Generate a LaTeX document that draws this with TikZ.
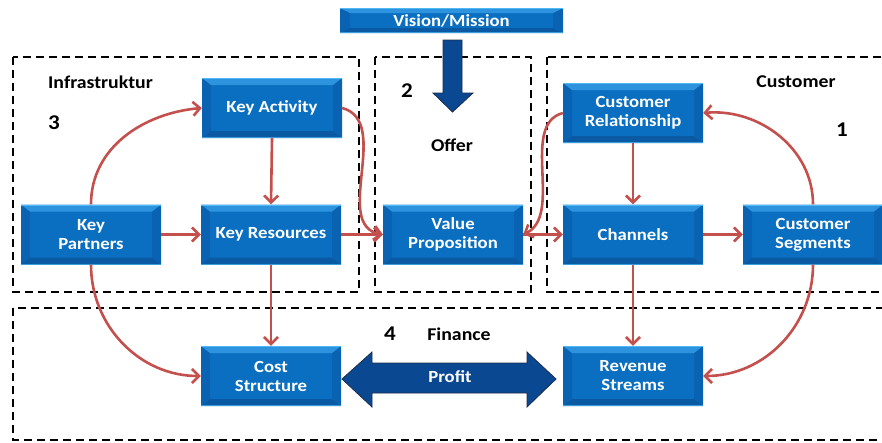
\documentclass[tikz,border=0pt]{standalone}
\usepackage{fontspec}
\setmainfont{Carlito}[FakeStretch=1.1]
\usetikzlibrary{arrows.meta}
\definecolor{bxmid}{HTML}{0B6FC1}
\definecolor{bxtop}{HTML}{2E93DE}
\definecolor{bxedge}{HTML}{4DB8F4}
\definecolor{bxbot}{HTML}{0A5AA3}
\definecolor{bxside}{HTML}{0A63B2}
\definecolor{arrblue}{HTML}{0B4892}
\definecolor{arrline}{HTML}{1C2D4A}
\definecolor{conred}{HTML}{C4504D}
\newcommand{\boxfont}{\fontsize{17}{19}\selectfont\bfseries}
\newcommand{\lblfont}{\fontsize{18}{20}\selectfont\bfseries}
\newcommand{\numfont}{\fontsize{21}{23}\selectfont\bfseries}
\tikzset{
  bevel/.style 2 args={path picture={
    \path (path picture bounding box.north west) coordinate (@nw)
          (path picture bounding box.north east) coordinate (@ne)
          (path picture bounding box.south west) coordinate (@sw)
          (path picture bounding box.south east) coordinate (@se);
    \fill[bxside] (@nw) -- ([shift={(#1,-#2)}]@nw) -- ([shift={(#1,#2)}]@sw) -- (@sw) -- cycle;
    \fill[bxside] (@ne) -- ([shift={(-#1,-#2)}]@ne) -- ([shift={(-#1,#2)}]@se) -- (@se) -- cycle;
    \fill[bxtop] (@nw) -- (@ne) -- ([shift={(-#1,-#2)}]@ne) -- ([shift={(#1,-#2)}]@nw) -- cycle;
    \fill[bxbot] (@sw) -- (@se) -- ([shift={(-#1,#2)}]@se) -- ([shift={(#1,#2)}]@sw) -- cycle;
    \draw[bxedge, line width=1.2pt] ([yshift=-0.6pt]@nw) -- ([yshift=-0.6pt]@ne);
    \draw[bxedge!70!bxbot, line width=1pt] ([yshift=0.5pt]@sw) -- ([yshift=0.5pt]@se);
  }},
  blk/.style={rectangle, inner sep=0pt, minimum width=140pt, minimum height=60pt,
    fill=bxmid, text=white, font=\boxfont, align=center, bevel={9pt}{7pt}},
  zone/.style={draw=black, line width=2.4pt, dash pattern=on 8pt off 5pt},
  lbl/.style={font=\lblfont, text=black, inner sep=0pt},
  num/.style={font=\numfont, text=black, inner sep=0pt},
  conn/.style={draw=conred, line width=2.6pt, -{Straight Barb[length=7pt,width=14pt]}},
  bigarr/.style={fill=arrblue, draw=arrline, line width=0.8pt},
}
\begin{document}
\begin{tikzpicture}[x=1pt,y=-1pt]
\useasboundingbox (0,0) rectangle (882,442);
% zones
\draw[zone] (13,57) rectangle (359,292);
\draw[zone] (375,57) rectangle (531,292);
\draw[zone] (547,57) rectangle (895,292);
\draw[zone] (13,308) rectangle (895,440);
% labels
\node[lbl, anchor=west] (linf) at (48,82) {Infrastruktur};
\node[num] (n3) at (54,123) {3};
\node[num] (n2) at (407,91) {2};
\node[lbl] (loff) at (452,145) {Offer};
\node[lbl] (lcus) at (796,82) {Customer};
\node[num] (n1) at (842,130) {1};
\node[num] (n4) at (390,334) {4};
\node[lbl] (lfin) at (459,334) {Finance};
% vision arrow
\node[blk, minimum width=223pt, minimum height=25pt, bevel={10pt}{5pt}] (vm) at (451.5,20.5) {Vision/Mission};
\fill[bigarr] (443,40) -- (462,40) -- (462,93) -- (473,93) -- (452.5,112) -- (433,93) -- (443,93) -- cycle;
% boxes
\node[blk] (ka) at (272,108) {Key Activity};
\node[blk] (kp) at (91,234.5) {Key\\Partners};
\node[blk] (kr) at (271,234.5) {Key Resources};
\node[blk] (vp) at (453,234.5) {Value\\Proposition};
\node[blk] (cr) at (633,113) {Customer\\Relationship};
\node[blk] (ch) at (633,234.5) {Channels};
\node[blk] (cs) at (813,234.5) {Customer\\Segments};
\node[blk] (cst) at (271,376) {Cost\\Structure};
\node[blk] (rs) at (633,376) {Revenue\\Streams};
% profit arrow
\fill[bigarr] (342,379) -- (372,352) -- (372,363) -- (527,363) -- (527,352) -- (556,379)
  -- (527,407) -- (527,393) -- (372,393) -- (372,407) -- cycle;
\node[font=\boxfont, text=white] (profit) at (450,377) {Profit};
% connectors
\draw[conn] (kp.north) to[out=90,in=185] (ka.west);
\draw[conn] (ka.south) -- (kr.north);
\draw[conn] (kp.east) -- (kr.west);
\draw[conn] (kr.east) -- (vp.west);
\draw[conn] (ka.east) to[out=-15,in=170,looseness=1.0] (vp.west);
\draw[conn] (cr.west) to[out=195,in=25,looseness=0.9] (vp.east);
\draw[conn] (vp.east) -- (ch.west);
\draw[conn] (ch.east) -- (cs.west);
\draw[conn] (cs.north) to[out=90,in=5] (cr.east);
\draw[conn] (cr.south) -- (ch.north);
\draw[conn] (ch.south) -- (rs.north);
\draw[conn] (kr.south) -- (cst.north);
\draw[conn] (kp.south) to[out=-90,in=180] (cst.west);
\draw[conn] (cs.south) to[out=-90,in=0] (rs.east);
\end{tikzpicture}
\end{document}
